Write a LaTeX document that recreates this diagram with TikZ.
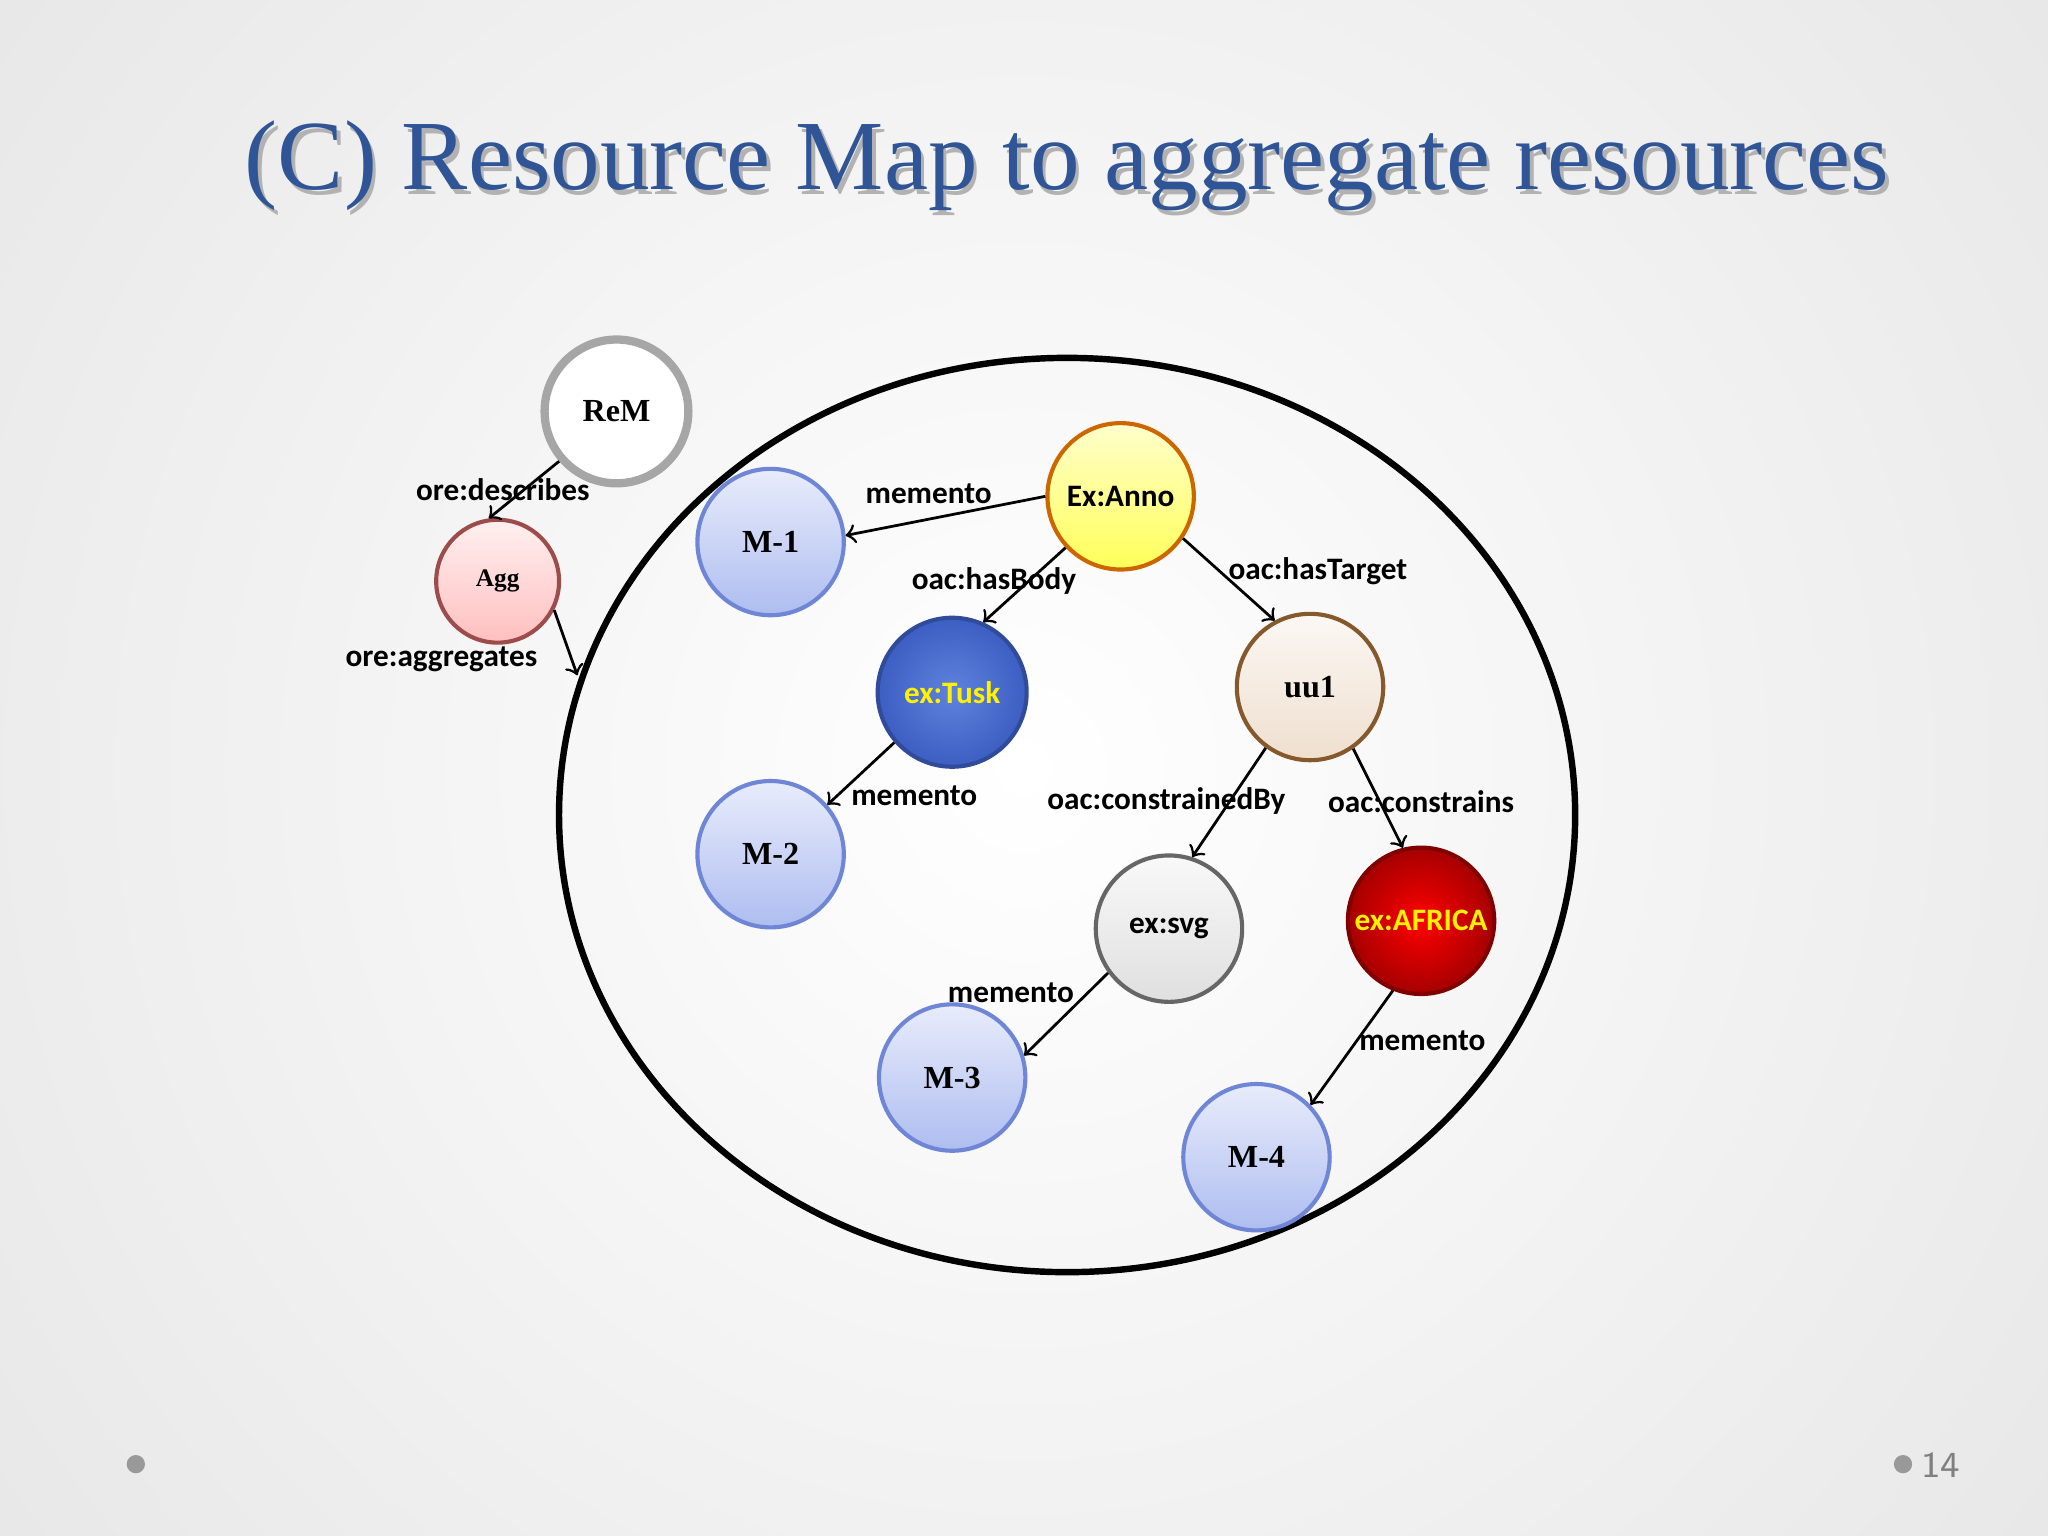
\documentclass[tikz,border=0pt]{standalone}
\usepackage{fontspec}
\setmainfont{Liberation Serif}
\newfontfamily\lblfont{Carlito}
\usetikzlibrary{shadings}
\definecolor{titleblue}{HTML}{2F5597}
\definecolor{mtop}{HTML}{E8ECFB}
\definecolor{mbot}{HTML}{AEBDF0}
\definecolor{mdraw}{HTML}{6F86D6}
\definecolor{tuskin}{HTML}{5F82DD}
\definecolor{tuskout}{HTML}{3D5EC2}
\tikzset{
  ball/.style={circle,minimum size=#1*0.02cm,inner sep=0pt,line width=0.9pt,font=\fontsize{7}{8}\selectfont\bfseries},
  mball/.style={ball=56,top color=mtop,bottom color=mbot,draw=mdraw},
  conn/.style={->,>=to,line width=0.6pt},
  lbl/.style={font=\lblfont\fontsize{6.8}{7.5}\selectfont\bfseries,inner sep=0pt}
}
\begin{document}
\begin{tikzpicture}[x=0.01cm,y=-0.01cm]
\useasboundingbox (0,0) rectangle (1568,1176);
\shade[inner color=white,outer color=gray!22] (-400,-600) rectangle (1968,1776);
% title
\node[text=black!30,font=\fontsize{21.6}{25}\selectfont] at (820,131) {(C) Resource Map to aggregate resources};
\node[text=titleblue,font=\fontsize{21.6}{25}\selectfont] (title) at (817,127) {(C) Resource Map to aggregate resources};
% big ellipse
\draw[line width=1.4pt] (817,624) ellipse [x radius=389,y radius=350];
\coordinate (ell) at (442,517);
% nodes
\node[ball=55,fill=white,draw=gray!70,line width=1.8pt] (rem) at (472,315) {ReM};
\node[ball=47,top color=red!6,bottom color=red!25!white,draw=red!45!black!70,font=\fontsize{5.5}{6}\selectfont\bfseries] (agg) at (381,445) {Agg};
\node[mball] (m1) at (590,415) {M-1};
\node[ball=56,top color=yellow!20,bottom color=yellow!65!white,draw=orange!80!black,font=\lblfont\fontsize{6.8}{7.5}\selectfont\bfseries] (anno) at (858,380) {Ex:Anno};
\node[ball=57,inner color=tuskin,outer color=tuskout,draw=tuskout!80!black,text=yellow,font=\lblfont\fontsize{6.8}{7.5}\selectfont\bfseries] (tusk) at (729,530) {ex:Tusk};
\node[ball=56,top color=brown!6,bottom color=brown!25!white,draw=brown!70!black] (uu1) at (1003,526) {uu1};
\node[mball] (m2) at (590,654) {M-2};
\node[ball=56,top color=gray!5,bottom color=gray!25,draw=gray!80!black,font=\lblfont\fontsize{6.8}{7.5}\selectfont\bfseries] (svg) at (895,711) {ex:svg};
\node[ball=56,inner color=red,outer color=red!65!black,draw=red!50!black,text=yellow,font=\lblfont\fontsize{6.8}{7.5}\selectfont\bfseries] (afr) at (1088,705) {ex:AFRICA};
\node[mball] (m3) at (729,825) {M-3};
\node[mball] (m4) at (962,886) {M-4};
% connectors
\draw[conn] (rem.221) -- (agg.98);
\draw[conn] (agg.333) -- (ell);
\draw[conn] (anno.180) -- (m1.5);
\draw[conn] (anno.223) -- (tusk.66);
\draw[conn] (anno.326) -- (uu1.118);
\draw[conn] (tusk.221) -- (m2.41);
\draw[conn] (uu1.234) -- (svg.72);
\draw[conn] (uu1.305) -- (afr.104);
\draw[conn] (svg.216) -- (m3.17);
\draw[conn] (afr.248) -- (m4.44);
% labels
\node[lbl] (l1) at (385,375) {ore:describes};
\node[lbl] (l2) at (338,505) {ore:aggregates};
\node[lbl] (l3) at (711,378) {memento};
\node[lbl] (l4) at (761,445) {oac:hasBody};
\node[lbl] (l5) at (1009,437) {oac:hasTarget};
\node[lbl] (l6) at (700,609) {memento};
\node[lbl] (l7) at (893,613) {oac:constrainedBy};
\node[lbl] (l8) at (1088,614) {oac:constrains};
\node[lbl] (l9) at (774,760) {memento};
\node[lbl] (l10) at (1089,797) {memento};
% slide decorations
\fill[gray!80] (104,1121) circle (7);
\fill[gray!80] (1457,1121) circle (7);
\node[text=gray,font=\sffamily\fontsize{8}{9}\selectfont] (pg) at (1486,1122) {14};
\end{tikzpicture}
\end{document}
